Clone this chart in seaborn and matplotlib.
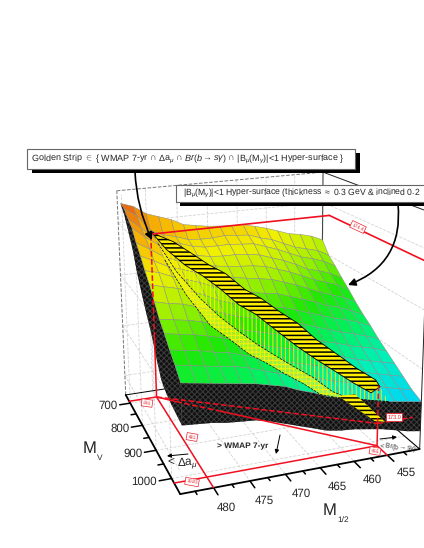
import numpy as np
import matplotlib
matplotlib.use("Agg")
from matplotlib import pyplot as plt
from matplotlib.collections import PolyCollection
from matplotlib.patches import Rectangle, FancyArrowPatch
import seaborn as sns

# surface grid: M1/2 across, MV down, top quark mass in the cells
m12_grid = [484, 482, 480, 478, 476, 474, 472, 470, 468, 466, 464, 462, 460, 458, 456, 454, 452, 450]
mv_grid = [660, 690, 720, 750, 780, 810, 840, 870, 900, 930, 960, 990, 1020, 1050]
mt_table = [
    [174.68, 174.64, 174.56, 174.52, 174.48, 174.42, 174.40, 174.38, 174.37, 174.36, 174.36, 174.33, 174.30, 174.26, 174.22, 174.20, 174.17, 174.12],
    [174.66, 174.58, 174.43, 174.38, 174.35, 174.31, 174.30, 174.30, 174.31, 174.30, 174.29, 174.25, 174.22, 174.17, 174.12, 174.09, 174.06, 174.00],
    [174.60, 174.50, 174.40, 174.35, 174.32, 174.28, 174.26, 174.26, 174.26, 174.25, 174.24, 174.20, 174.16, 174.11, 174.06, 174.03, 173.99, 173.93],
    [174.55, 174.45, 174.37, 174.31, 174.27, 174.23, 174.21, 174.20, 174.20, 174.19, 174.17, 174.13, 174.09, 174.04, 173.98, 173.95, 173.91, 173.85],
    [174.45, 174.38, 174.30, 174.25, 174.21, 174.17, 174.16, 174.14, 174.13, 174.12, 174.10, 174.06, 174.02, 173.97, 173.92, 173.88, 173.84, 173.78],
    [174.37, 174.31, 174.25, 174.21, 174.17, 174.13, 174.10, 174.08, 174.06, 174.04, 174.02, 173.98, 173.94, 173.89, 173.84, 173.80, 173.76, 173.70],
    [174.28, 174.25, 174.20, 174.16, 174.12, 174.07, 174.03, 174.00, 173.97, 173.95, 173.93, 173.89, 173.85, 173.81, 173.76, 173.73, 173.68, 173.63],
    [174.20, 174.17, 174.14, 174.10, 174.05, 173.99, 173.95, 173.92, 173.89, 173.87, 173.85, 173.81, 173.77, 173.73, 173.69, 173.66, 173.62, 173.57],
    [174.10, 174.07, 174.05, 174.01, 173.97, 173.92, 173.88, 173.85, 173.82, 173.79, 173.77, 173.73, 173.69, 173.65, 173.61, 173.58, 173.54, 173.50],
    [174.00, 173.98, 173.96, 173.93, 173.89, 173.85, 173.81, 173.78, 173.75, 173.72, 173.69, 173.65, 173.61, 173.58, 173.54, 173.51, 173.48, 173.44],
    [173.93, 173.91, 173.89, 173.86, 173.83, 173.79, 173.75, 173.71, 173.68, 173.65, 173.62, 173.58, 173.54, 173.51, 173.47, 173.44, 173.41, 173.38],
    [173.85, 173.83, 173.81, 173.78, 173.76, 173.72, 173.68, 173.65, 173.61, 173.58, 173.55, 173.51, 173.48, 173.44, 173.41, 173.38, 173.35, 173.32],
    [173.78, 173.76, 173.74, 173.72, 173.70, 173.67, 173.63, 173.59, 173.56, 173.53, 173.49, 173.45, 173.42, 173.39, 173.35, 173.32, 173.29, 173.26],
    [173.70, 173.68, 173.66, 173.64, 173.62, 173.60, 173.57, 173.54, 173.49, 173.45, 173.40, 173.37, 173.34, 173.31, 173.28, 173.26, 173.24, 173.22],
]
# lower rim of the black skirt
skirt_left = [174.68, 174.60, 174.48, 174.35, 174.17, 174.03, 173.90, 173.78, 173.62, 173.48, 173.43, 173.40, 173.38, 173.36]
skirt_front = [173.36, 173.35, 173.34, 173.32, 173.31, 173.30, 173.27, 173.23, 173.19, 173.15, 173.11, 173.09, 173.08, 173.06, 173.04, 173.01, 172.98, 172.96]

# golden strip and the bands under it, MV limits per M1/2
strip_m12 = [480, 479, 477, 475, 473, 471, 469, 467, 465, 463, 461, 459, 457, 455]
strip_upper = [691, 702, 716, 745, 775, 800, 835, 852, 880, 900, 930, 955, 982, 1005]
strip_lower = [695, 755, 790, 815, 842, 872, 890, 922, 952, 975, 995, 1020, 1035, 1020]
band_mid = [745, 820, 880, 910, 935, 960, 980, 1000, 1020, 1040, 1050, 1050, 1050, 1050]
band_low = [790, 880, 935, 960, 985, 1000, 1020, 1035, 1050, 1050, 1050, 1050, 1050, 1050]

m12_major = [480, 475, 470, 465, 460, 455]
m12_minor = [482.5, 477.5, 472.5, 467.5, 462.5, 457.5, 452.5]
mv_major = [700, 800, 900, 1000]
mv_minor = [750, 850, 950]
wall_mt = [173.0, 173.5, 174.0, 174.5]

x0, x1 = 484.5, 450
y0, y1 = 660, 1050
z0, z1 = 172.8, 174.8

# camera calibration: box corners, axis ticks and red frame against the picture
cal_world = [(x0, y0, z0), (x0, y1, z0), (x1, y1, z0), (x0, y0, z1), (x1, y0, z1), (x1, y1, z1), (x0, y1, z1),
             (480, y1, z0), (455, y1, z0), (x0, 700, z0), (x0, 1000, z0),
             (480, 691, z0), (480, 691, 174.4), (450, 691, 174.4), (455, 1015, z0)]
cal_pixel = [(122, 394), (178, 493), (420, 450), (116, 185), (322, 175), (426, 199), (174, 253),
             (216, 486), (388, 456), (130, 403), (170, 478),
             (160, 398), (153, 231), (330, 221), (377, 446)]


def scaled(x, y, z):
    return (np.asarray(x, float) - 467) / 17, (np.asarray(y, float) - 855) / 195, np.asarray(z, float) - 173.8


def fit_camera():
    rows = []
    for w, p in zip(cal_world, cal_pixel):
        a, b, c = scaled(*w)
        rows.append([a, b, c, 1, 0, 0, 0, 0, -p[0] * a, -p[0] * b, -p[0] * c, -p[0]])
        rows.append([0, 0, 0, 0, a, b, c, 1, -p[1] * a, -p[1] * b, -p[1] * c, -p[1]])
    return np.linalg.svd(np.array(rows, float))[2][-1].reshape(3, 4)


cam = fit_camera()


def project(x, y, z):
    a, b, c = scaled(x, y, z)
    d = np.ones_like(a)
    w = cam[2, 0] * a + cam[2, 1] * b + cam[2, 2] * c + cam[2, 3] * d
    return ((cam[0, 0] * a + cam[0, 1] * b + cam[0, 2] * c + cam[0, 3] * d) / w,
            (cam[1, 0] * a + cam[1, 1] * b + cam[1, 2] * c + cam[1, 3] * d) / w)


def on_surface(xq, yq):
    out = []
    for a, b in zip(xq, yq):
        col = [np.interp(a, m12_grid[::-1], row[::-1]) for row in mt_table]
        out.append(np.interp(b, mv_grid, col))
    return np.array(out)


sns.set_style("white")
plt.rcParams['font.family'] = ['Liberation Sans', 'DejaVu Sans']
plt.rcParams['mathtext.fontset'] = 'custom'
plt.rcParams['mathtext.rm'] = 'Liberation Sans'
plt.rcParams['mathtext.it'] = 'Liberation Sans:italic'
plt.rcParams['text.hinting'] = 'no_hinting'
plt.rcParams['hatch.linewidth'] = 0.7

fig = plt.figure(figsize=(4.24, 5.48), dpi=100)
ax = fig.add_axes([0, 0, 1, 1])
ax.set_xlim(0, 424)
ax.set_ylim(548, 0)
ax.axis('off')


def line(x, y, z, color='black', lw=1.0, ls='-', zorder=2):
    px, py = project(x, y, z)
    sns.lineplot(x=px, y=py, sort=False, estimator=None, color=color, linewidth=lw, linestyle=ls, ax=ax, zorder=zorder)


def poly(x, y, z, zorder=3, **style):
    px, py = project(x, y, z)
    ax.add_collection(PolyCollection([np.c_[px, py]], zorder=zorder, **style))


def label(x, y, text, rot=0):
    ax.text(x, y, text, fontsize=3.6, color='#e8202a', ha='center', va='center', rotation=rot, zorder=9,
            bbox=dict(boxstyle='square,pad=0.25', fc='white', ec='#e8202a', lw=0.5))


# floor and walls
for v in m12_major:
    line([v, v], [y0, y1], [z0, z0], color='#d4d4d4', lw=0.6, ls='--', zorder=1)
    line([v, v], [y0, y0], [z0, z1], color='#d4d4d4', lw=0.6, ls='--', zorder=1)
for v in mv_major:
    line([x0, x1], [v, v], [z0, z0], color='#d4d4d4', lw=0.6, ls='--', zorder=1)
    line([x0, x0], [v, v], [z0, z1], color='#d4d4d4', lw=0.6, ls='--', zorder=1)
for v in wall_mt:
    line([x0, x1], [y0, y0], [v, v], color='#d4d4d4', lw=0.6, ls='--', zorder=1)
    line([x0, x0], [y0, y1], [v, v], color='#d4d4d4', lw=0.6, ls='--', zorder=1)
    line([x1, x1], [y0, y1], [v, v], color='#d4d4d4', lw=0.6, ls='--', zorder=1)
line([x0, x0], [y0, y0], [z0, z1], color='#777777', lw=0.7, ls='--', zorder=1)
line([x0, x1], [y0, y0], [z1, z1], color='#777777', lw=0.7, ls='--', zorder=1)
line([x1, x1], [y0, y0], [z0, z1], color='#444444', lw=0.8, zorder=1)
line([x1, x1], [y0, y1], [z1, z1], color='#222222', lw=0.7, zorder=1)
line([x1, x1], [y1, y1], [z0, z1], color='#222222', lw=0.7, zorder=1)
line([x0, x1], [y0, y0], [z0, z0], color='black', lw=0.7, zorder=1)
line([x1, x1], [y0, y1], [z0, z0], color='black', lw=0.8, zorder=1)

# axes
line([x0, x0], [y0, y1], [z0, z0], lw=1.3, zorder=2)
line([x0, x1], [y1, y1], [z0, z0], lw=1.3, zorder=2)
for v in mv_major:
    line([x0, x0 + 1.7], [v, v], [z0, z0], lw=1.1)
for v in mv_minor:
    line([x0, x0 + 0.8], [v, v], [z0, z0], lw=1.1)
for v in m12_major:
    line([v, v], [y1, y1 + 22], [z0, z0], lw=1.1)
for v in m12_minor:
    line([v, v], [y1, y1 + 10], [z0, z0], lw=1.1)
for v in mv_major:
    px, py = project([x0 + 2.0], [v], [z0])
    ax.text(px[0], py[0] + 1, str(v), fontsize=8.3, ha='right', va='center')
for v in m12_major:
    px, py = project([v], [y1 + 62], [z0])
    ax.text(px[0], py[0], str(v), fontsize=8.3, ha='center', va='center')
ax.text(90, 449, "M", fontsize=12, ha='center', va='center')
ax.text(100, 458, "V", fontsize=6, ha='center', va='center')
ax.text(330, 511, "M", fontsize=12, ha='center', va='center')
ax.text(343, 520, "1/2", fontsize=6, ha='center', va='center')

# black skirt under the sheet
left_top = [row[0] for row in mt_table]
hatch_black = dict(facecolors='#101010', edgecolors='#3c3c3c', hatch='xxxxxx', linewidths=0.0)
poly([m12_grid[0]] * 28, mv_grid + mv_grid[::-1], left_top + skirt_left[::-1], zorder=3, **hatch_black)
poly(m12_grid + m12_grid[::-1], [mv_grid[-1]] * 36, mt_table[-1] + skirt_front[::-1], zorder=3, **hatch_black)

# the sheet itself, back cells first
colours = sns.blend_palette(['#00d0ff', '#00f0c0', '#00f060', '#20e800', '#a0f000', '#f0f000', '#f8b800', '#e86a10'],
                            as_cmap=True)
table = np.array(mt_table)
cells, shades = [], []
for i in range(len(mv_grid) - 1):
    for j in range(len(m12_grid) - 1):
        xs = [m12_grid[j], m12_grid[j + 1], m12_grid[j + 1], m12_grid[j]]
        ys = [mv_grid[i], mv_grid[i], mv_grid[i + 1], mv_grid[i + 1]]
        zs = [table[i, j], table[i, j + 1], table[i + 1, j + 1], table[i + 1, j]]
        px, py = project(xs, ys, zs)
        cells.append(np.c_[px, py])
        shades.append((np.mean(zs) - 173.2) / (174.65 - 173.2))
ax.add_collection(PolyCollection(cells, facecolors=colours(np.clip(shades, 0, 1)), edgecolors='#8c8c8c',
                                 linewidths=0.35, zorder=4))

# bands on the sheet
sx = np.array(strip_m12, float)
for up, low, hatch, face in [(strip_lower, band_mid, '||||', 'none'), (band_mid, band_low, '++++', '#f6f63099')]:
    xs = np.r_[sx, sx[::-1]]
    ys = np.r_[up, low[::-1]]
    poly(xs, ys, on_surface(xs, ys), zorder=5, facecolors=face, edgecolors='#f4f400', hatch=hatch, linewidths=0.0)
for edge in [band_mid, band_low]:
    line(sx, edge, on_surface(sx, edge), lw=0.5, ls='--', zorder=6)
xs = np.r_[sx, sx[::-1]]
ys = np.r_[strip_upper, strip_lower[::-1]]
plt.rcParams['hatch.linewidth'] = 1.1
poly(xs, ys, on_surface(xs, ys), zorder=6, facecolors='#ffee00', edgecolors='black', hatch='----', linewidths=0.6)
poly([462.5, 460, 455.5, 457], [1050, 1050, 1050, 1050], [173.39, 173.38, 173.10, 173.12], zorder=6,
     facecolors='#ffee00', edgecolors='black', hatch='----', linewidths=0.0)

# red frame
red = '#f01020'
line([484.5, 480], [691, 691], [z0, z0], color=red, lw=1.1, zorder=7)
line([480, 480], [691, y1], [z0, z0], color=red, lw=1.1, zorder=7)
line([484.5, 455], [1015, 1015], [z0, z0], color=red, lw=1.1, zorder=7)
line([455, 455], [1015, y1], [z0, z0], color=red, lw=1.1, zorder=7)
line([480, 477.5], [691, 725], [z0, z0], color=red, lw=1.1, zorder=7)
line([477.5, 472], [725, 795], [z0, z0], color=red, lw=1.1, ls='--', zorder=7)
line([472, 455], [795, 1015], [z0, z0], color=red, lw=1.1, zorder=7)
line([480, 480], [691, 691], [z0, 173.4], color=red, lw=1.1, zorder=7)
line([480, 480], [691, 691], [173.4, 174.4], color=red, lw=1.1, ls='--', zorder=7)
line([455, 455], [1015, 1015], [z0, 173.0], color=red, lw=1.1, zorder=7)
line([455, 455], [1015, 1015], [173.0, 173.35], color=red, lw=1.1, ls='--', zorder=7)
line([480, 455], [691, 1015], [z0, 173.0], color=red, lw=1.1, ls='--', zorder=7)
line([455, 449.5], [1015, 1015], [173.0, 173.0], color=red, lw=1.1, ls='--', zorder=7)
line([480, 450], [691, 691], [174.4, 174.4], color=red, lw=1.2, zorder=7)
line([450, 450], [691, 1060], [174.4, 174.4], color=red, lw=1.2, zorder=7)

label(147, 403, "691", -8)
label(192, 437, "481", -10)
label(192, 482, "1020", -10)
label(375, 451, "455", -10)
label(358, 227, "174.4", -25)
ax.text(394, 417, "173.0", fontsize=4, color='#e8202a', ha='center', va='center', zorder=9,
        bbox=dict(boxstyle='square,pad=0.25', fc='white', ec='#e8202a', lw=0.6))

# region notes
ax.text(243, 446, "> WMAP 7-yr", fontsize=6, ha='center', va='center', fontweight='bold', zorder=9)
ax.text(183, 463, r"< $\Delta$a$_{\mu}$", fontsize=8.5, ha='center', va='center', zorder=9)
ax.text(398, 447, r"< Br(b$\rightarrow$s$\gamma$)", fontsize=4.8, ha='center', va='center', rotation=-5, zorder=9)
for start, end in [((280, 435), (276, 454)), ((188, 454), (167, 456)), ((380, 439), (397, 437))]:
    ax.add_patch(FancyArrowPatch(start, end, arrowstyle='-|>', mutation_scale=6, lw=0.7, color='black', zorder=9,
                                 shrinkA=0, shrinkB=0))

# call-outs
ax.add_patch(FancyArrowPatch((135, 172), (152, 240), connectionstyle='arc3,rad=0.1', arrowstyle='-|>',
                             mutation_scale=11, lw=1.2, color='black', zorder=8, shrinkA=0, shrinkB=0))
ax.add_patch(FancyArrowPatch((398, 204), (348, 285), connectionstyle='arc3,rad=-0.38', arrowstyle='-|>',
                             mutation_scale=11, lw=1.2, color='black', zorder=8, shrinkA=0, shrinkB=0))
ax.add_patch(Rectangle((32, 153), 328, 20, fc='black', ec='none', zorder=10))
ax.add_patch(Rectangle((27, 149), 328, 20, fc='white', ec='#666666', lw=0.8, zorder=11))
ax.text(31, 159.5, r"Golden Strip $\in$ { WMAP 7-yr $\cap$ $\Delta$a$_{\mu}$ $\cap$ $\mathit{Br(b{\rightarrow}s\gamma)}$ $\cap$ |B$_{\mu}$(M$_{\gamma}$)|<1 Hyper-surface }",
        fontsize=6.5, va='center', zorder=12)
ax.add_patch(Rectangle((180, 189), 260, 17, fc='black', ec='none', zorder=10))
ax.add_patch(Rectangle((176, 185), 260, 17, fc='white', ec='#666666', lw=0.8, zorder=11))
ax.text(183, 193.5, r"|B$_{\mu}$(M$_{\gamma}$)|<1 Hyper-surface (thickness $\approx$ 0.3 GeV & inclined 0.2",
        fontsize=6.25, va='center', zorder=12)

ax.set_xlim(0, 424)
ax.set_ylim(548, 0)
ax.set_xlabel('')
ax.set_ylabel('')
plt.savefig("out.png", dpi=100)
